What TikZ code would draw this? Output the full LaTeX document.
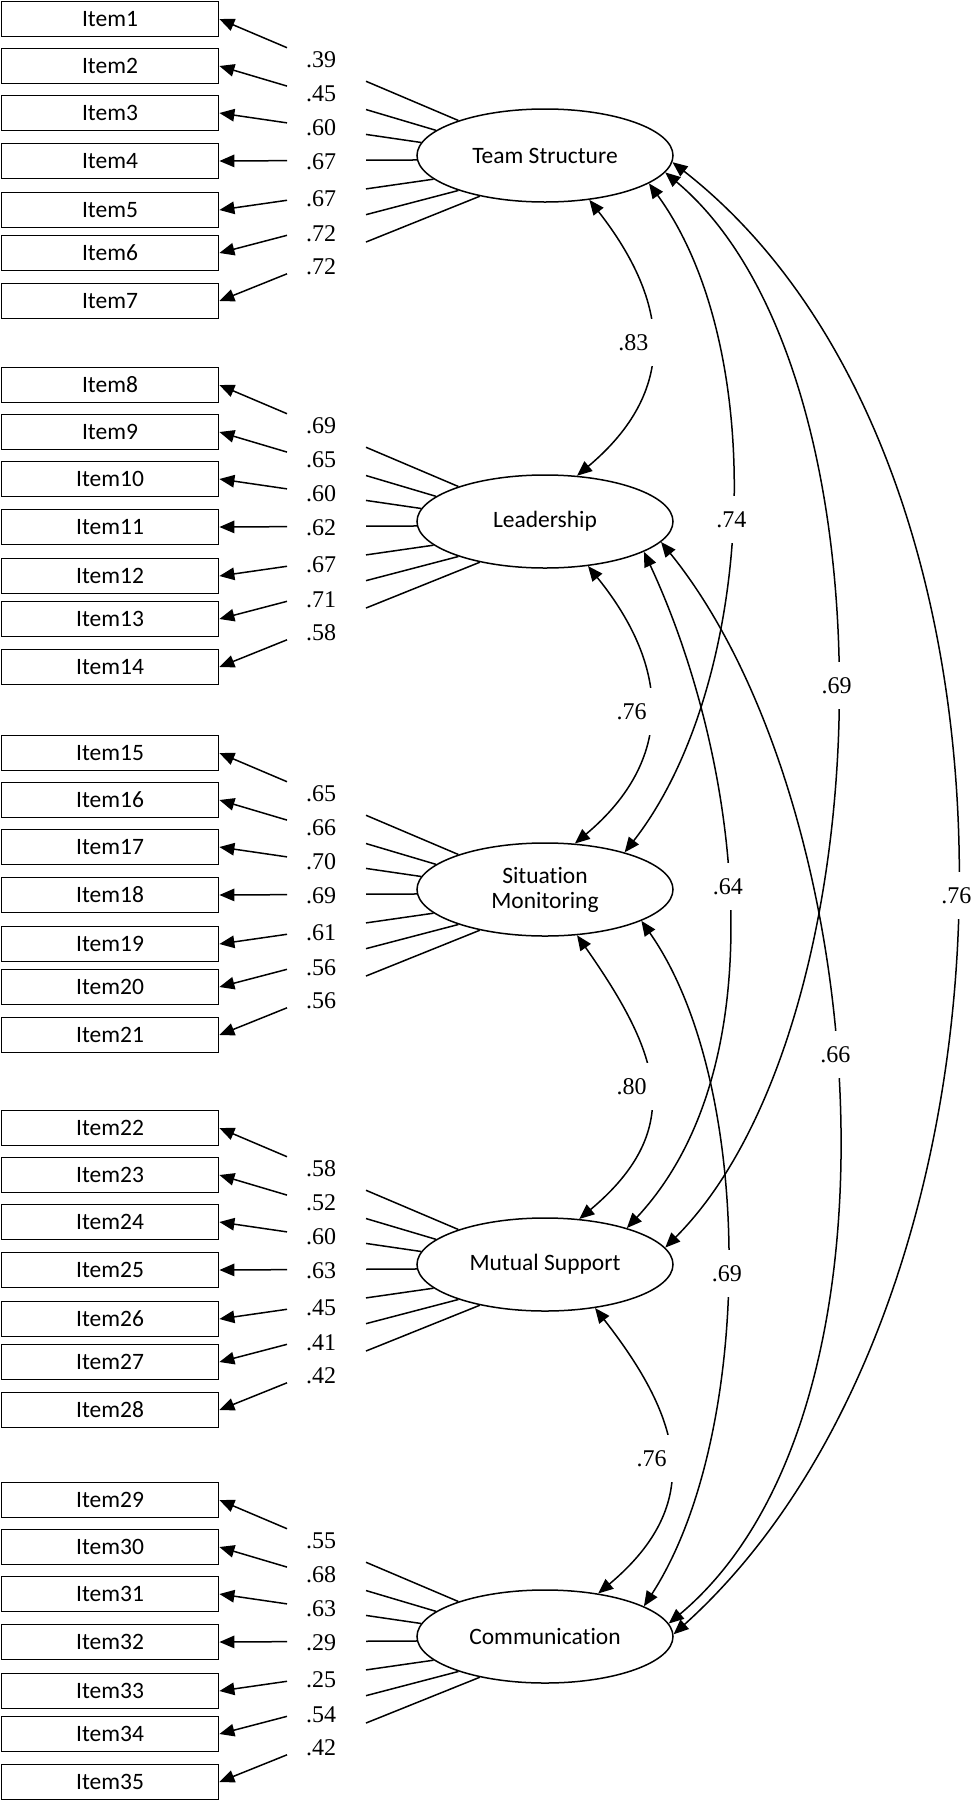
\documentclass[tikz,border=0pt]{standalone}
\usepackage{fontspec}
\setmainfont{Liberation Serif}
\newfontfamily\cfont[Ligatures={NoCommon,NoRequired,NoContextual}]{Carlito}
\usetikzlibrary{arrows.meta,calc,shapes.geometric}

% 1 px of the reference = 0.4pt
\tikzset{
  itembox/.style={draw, line width=0.72pt, minimum width=86.8pt, minimum height=14pt, inner sep=0pt, font=\cfont\fontsize{9.4}{10}\selectfont},
  factor/.style={draw, ellipse, line width=0.6pt, minimum width=102.4pt, minimum height=37.2pt, inner sep=0pt, align=center, font=\cfont\fontsize{9.4}{10}\selectfont},
  lval/.style={font=\fontsize{9.6}{10.4}\selectfont, inner sep=0pt},
  loadl/.style={line width=0.6pt, -{Triangle[length=6pt,width=5pt]}},
  cov/.style={line width=0.6pt, {Triangle[length=6pt,width=5pt]}-{Triangle[length=6pt,width=5pt]}},
  covlab/.style={fill=white, font=\fontsize{9.6}{10.4}\selectfont, inner sep=0pt, minimum height=18.8pt, minimum width=14.4pt},
  covlabl/.style={covlab, minimum width=17.6pt, xshift=-7.2pt},
}

% loading line from a factor anchor to an item, broken between x=287 and x=366 (ref px)
\newcommand\myload[2]{%
  \draw[loadl] let \p1=(#1), \p2=(#2.east) in
    (\p1) -- (146.4pt, {\y1+(\y2-\y1)/(\x1-\x2)*(\x1-146.4pt)})
    (114.8pt, {\y1+(\y2-\y1)/(\x1-\x2)*(\x1-114.8pt)}) -- (\p2);
}

\newcommand\mygroup[9]{%
  \foreach \k/\dy/\ang/\ldy/\v in {1/-136.5/158/-95.5/#3, 2/-89.5/167/-62/#4, 3/-42.5/174/-28/#5, 4/5.5/182/6/#6, 5/54.5/192/43/#7, 6/97.5/202/78/#8, 7/145.5/212/111/#9}{
    \pgfmathtruncatemacro\idx{7*#1+\k}
    \node[itembox] (i\idx) at (110,{-(#2+\dy)}) {Item\idx};
    \node[lval] (v\idx) at (321,{-(#2+\ldy)}) {\v};
    \edef\fromanchor{f#1.\ang}\edef\toitem{i\idx}%
    \myload{\fromanchor}{\toitem}
  }
}

\begin{document}
\begin{tikzpicture}[x=0.4pt,y=0.4pt]
\useasboundingbox (0,0) rectangle (973,-1800);

\node[factor] (f0) at (545,-155.5) {Team Structure};
\node[factor] (f1) at (545,-521.5) {Leadership};
\node[factor] (f2) at (545,-889.5) {Situation\\Monitoring};
\node[factor] (f3) at (545,-1264.5) {Mutual Support};
\node[factor] (f4) at (545,-1636.5) {Communication};

\mygroup{0}{155.5}{.39}{.45}{.60}{.67}{.67}{.72}{.72}
\mygroup{1}{521.5}{.69}{.65}{.60}{.62}{.67}{.71}{.58}
\mygroup{2}{889.5}{.65}{.66}{.70}{.69}{.61}{.56}{.56}
\mygroup{3}{1264.5}{.58}{.52}{.60}{.63}{.45}{.41}{.42}
\mygroup{4}{1636.5}{.55}{.68}{.63}{.29}{.25}{.54}{.42}

% adjacent correlations
\draw[cov] (f0.-45) to[out=-52,in=40,looseness=1.22] node[covlabl,pos=.49] (c01) {.83} (f1.55);
\draw[cov] (f1.-46) to[out=-51,in=40,looseness=1.2] node[covlabl,pos=.5] (c12) {.76} (f2.57);
\draw[cov] (f2.-55) to[out=-55,in=40,looseness=1.28] node[covlabl,pos=.5] (c23) {.80} (f3.53);
\draw[cov] (f3.-41) to[out=-52,in=40,looseness=1.26] node[covlabl,pos=.5] (c34) {.76} (f4.39);
% longer correlations
\draw[cov] (f0.-15) to[out=-54,in=52,looseness=0.8] node[covlab,pos=.5] (c02) {.74} (f2.25);
\draw[cov] (f0.-8) to[out=-40,in=45,looseness=0.74] node[covlab,pos=.487] (c03) {.69} (f3.8);
\draw[cov] (f0.-3) to[out=-38,in=42,looseness=0.86] node[covlab,pos=.504] (c04) {.76} (f4.1);
\draw[cov] (f1.-17) to[out=-65,in=47,looseness=0.85] node[covlab,pos=.476] (c13) {.64} (f3.24);
\draw[cov] (f1.-10) to[out=-51,in=40,looseness=0.78] node[covlab,pos=.465] (c14) {.66} (f4.6);
\draw[cov] (f2.-18) to[out=-55,in=57,looseness=0.75] node[covlab,pos=.515] (c24) {.69} (f4.17);
\end{tikzpicture}
\end{document}
